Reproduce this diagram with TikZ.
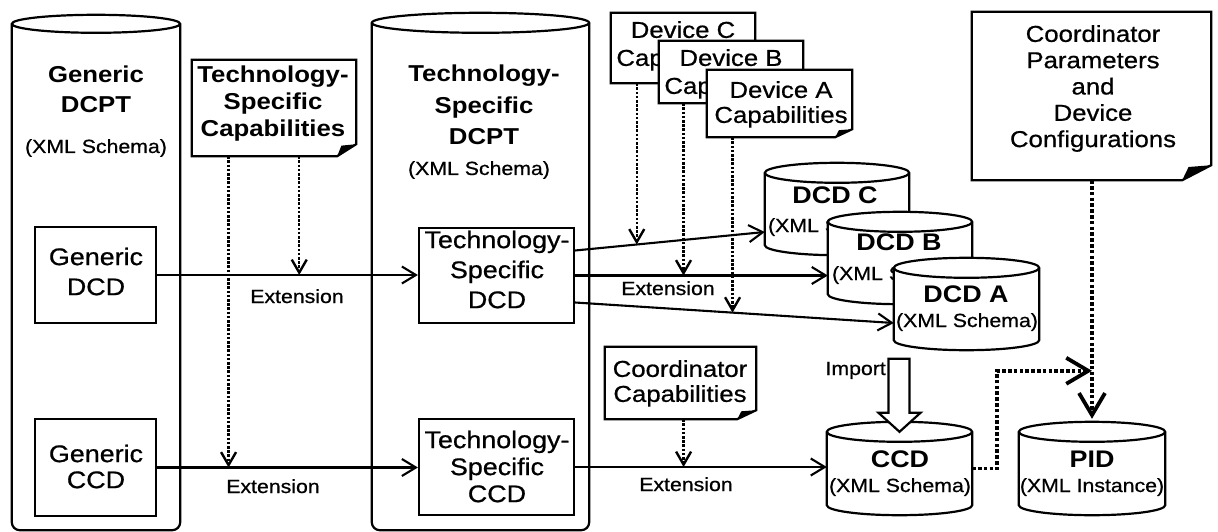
\documentclass[tikz,border=0pt]{standalone}
\usepackage{fontspec}
\setmainfont{Liberation Sans}[FakeStretch=1.12, UprightFeatures={FakeBold=0.7}]
\usetikzlibrary{arrows.meta,calc}
\newcommand\myfs[2]{\fontsize{#1}{#2}\selectfont}
\tikzset{
  thk/.style={line width=2.2pt},
  area/.style 2 args={rectangle, inner sep=0pt, minimum width=#1pt, minimum height=#2pt},
  notearea/.style 2 args={area={#1}{#2}, fill=white},
  box/.style 2 args={area={#1}{#2}, draw, thk, fill=white},
  mtxt/.style={align=center, inner sep=0pt, anchor=north},
  ltxt/.style={inner sep=0pt, anchor=base},
  arr/.style={line width=2.1pt, -{Straight Barb[length=14pt,width=17pt]}},
  dotarr/.style={line width=2.4pt, dash pattern=on 2.6pt off 1.6pt, -{Straight Barb[length=13pt,width=15pt]}},
  bigdot/.style={line width=3.8pt, dash pattern=on 3.6pt off 2.2pt},
  bigtip/.style={-{Straight Barb[length=22pt,width=26pt]}},
}
% cylinder drawn on the area of a named node
\newcommand\cyl[2]{%
  \draw[thk,fill=white] let \p1=(#1.west), \p2=(#1.east), \n1={(\x2-\x1)/2} in
    ([yshift=-#2pt]#1.north west) -- ([yshift=#2pt]#1.south west)
    arc[start angle=180,end angle=360,x radius=\n1,y radius=#2pt]
    -- ([yshift=-#2pt]#1.north east)
    arc[start angle=0,end angle=180,x radius=\n1,y radius=#2pt] -- cycle;
  \draw[thk] let \p1=(#1.west), \p2=(#1.east), \n1={(\x2-\x1)/2} in
    ([yshift=-#2pt]#1.north west) arc[start angle=180,end angle=360,x radius=\n1,y radius=#2pt];
}
\newcommand\bigcyl[3]{%
  \draw[thk,fill=white] let \p1=(#1.west), \p2=(#1.east), \n1={(\x2-\x1)/2} in
    ([yshift=-#2pt]#1.north west) -- ([yshift=#3pt]#1.south west)
    arc[start angle=180,end angle=270,radius=#3pt]
    -- ([xshift=-#3pt]#1.south east)
    arc[start angle=270,end angle=360,radius=#3pt]
    -- ([yshift=-#2pt]#1.north east)
    arc[start angle=0,end angle=180,x radius=\n1,y radius=#2pt] -- cycle;
  \draw[thk] let \p1=(#1.west), \p2=(#1.east), \n1={(\x2-\x1)/2} in
    ([yshift=-#2pt]#1.north west) arc[start angle=180,end angle=360,x radius=\n1,y radius=#2pt];
}
% note outline with folded corner
\newcommand\noteoutline[3]{%
  \draw[thk] (#1.north west) -- (#1.north east) -- ([yshift=#3pt]#1.south east)
    -- ([xshift=-#2pt]#1.south east) -- (#1.south west) -- cycle;
  \fill ([yshift=#3pt]#1.south east) -- ([xshift=-#2pt]#1.south east)
    -- ([xshift=-0.78*#2pt,yshift=0.88*#3pt]#1.south east) -- cycle;
}
\begin{document}
\begin{tikzpicture}[x=1pt,y=-1pt]
\useasboundingbox (0,0) rectangle (1218,532);

% big cylinders
\node[area={168}{515}] (gdcpt) at (96,272.5) {};
\bigcyl{gdcpt}{9}{8}
\node[mtxt, font=\myfs{23}{30}\bfseries] (gdcptT) at (96,66) {Generic\\DCPT};
\node[mtxt, font=\myfs{19}{22}] (gdcptX) at (96,139) {(XML Schema)};

\node[area={217}{517}] (tsdcpt) at (480.5,271.5) {};
\bigcyl{tsdcpt}{10}{8}
\node[mtxt, font=\myfs{23}{31.5}\bfseries] (tsdcptT) at (484,65) {Technology-\\Specific\\DCPT};
\node[mtxt, font=\myfs{19}{22}] (tsdcptX) at (479,161) {(XML Schema)};

% boxes
\node[box={121}{96}] (gdcd) at (95.5,275) {};
\node[mtxt, font=\myfs{24}{30}] (gdcdT) at (96,247.5) {Generic\\DCD};
\node[box={121}{97}] (gccd) at (95.5,467.5) {};
\node[mtxt, font=\myfs{24}{26}] (gccdT) at (96,444.5) {Generic\\CCD};
\node[box={155}{95}] (tsdcd) at (496.5,275.5) {};
\node[mtxt, font=\myfs{24}{30}] (tsdcdT) at (497,230.5) {Technology-\\Specific\\DCD};
\node[box={155}{96}] (tsccd) at (496.5,467) {};
\node[mtxt, font=\myfs{24}{27}] (tsccdT) at (497,430.5) {Technology-\\Specific\\CCD};

% notes
\node[notearea={164}{96}] (tsc) at (274,108) {};
\noteoutline{tsc}{19}{12}
\node[mtxt, font=\myfs{23}{27}\bfseries] (tscT) at (273,66) {Technology-\\Specific\\Capabilities};

\node[notearea={144}{70}] (devc) at (683,48) {};
\noteoutline{devc}{17}{8}
\node[mtxt, font=\myfs{23}{28}] (devcT) at (683,21) {Device C\\Capabilities};
\node[notearea={144}{62}] (devb) at (731,72) {};
\noteoutline{devb}{17}{8}
\node[mtxt, font=\myfs{23}{28}] (devbT) at (731,49) {Device B\\Capabilities};
\node[notearea={145}{67}] (deva) at (779.5,103.5) {};
\noteoutline{deva}{17}{8}
\node[mtxt, font=\myfs{23}{25}] (devaT) at (781,81) {Device A\\Capabilities};

\node[notearea={151}{72}] (cc) at (680.5,383) {};
\noteoutline{cc}{19}{9}
\node[mtxt, font=\myfs{23}{25}] (ccT) at (680,360) {Coordinator\\Capabilities};

\node[notearea={239}{168}] (cpdc) at (1091.5,96) {};
\noteoutline{cpdc}{29}{15}
\node[mtxt, font=\myfs{23}{26.3}] (cpdcT) at (1093,25) {Coordinator\\Parameters\\and\\Device\\Configurations};

% DCD cylinders
\node[area={144}{92}] (dcdc) at (837,209) {};
\cyl{dcdc}{10}
\node[ltxt, font=\myfs{24}{28}\bfseries] (dcdcT) at (835,203) {DCD C};
\node[ltxt, font=\myfs{19}{22}] (dcdcX) at (839,232) {(XML Schema)};
\node[area={144}{92}] (dcdb) at (900,258) {};
\cyl{dcdb}{10}
\node[ltxt, font=\myfs{24}{28}\bfseries] (dcdbT) at (899,250) {DCD B};
\node[ltxt, font=\myfs{19}{22}] (dcdbX) at (903,280) {(XML Schema)};
\node[area={145}{92}] (dcda) at (966.5,304) {};
\cyl{dcda}{10}
\node[ltxt, font=\myfs{24}{28}\bfseries] (dcdaT) at (966,302) {DCD A};
\node[ltxt, font=\myfs{19}{22}] (dcdaX) at (967,327) {(XML Schema)};

% CCD and PID
\node[area={145}{93}] (ccd) at (899.5,468.5) {};
\cyl{ccd}{10}
\node[ltxt, font=\myfs{24}{28}\bfseries] (ccdT) at (900,467) {CCD};
\node[ltxt, font=\myfs{19}{22}] (ccdX) at (900,492) {(XML Schema)};
\node[area={146}{93}] (pid) at (1092,468.5) {};
\cyl{pid}{10}
\node[ltxt, font=\myfs{24}{28}\bfseries] (pidT) at (1092,467) {PID};
\node[ltxt, font=\myfs{19}{22}] (pidX) at (1092,492) {(XML Instance)};

% import arrow
\coordinate (imptip) at ([yshift=-10pt]ccd.north);
\draw[thk, fill=white] (imptip) -- ++(21,-19) -- ++(-11,0) -- ++(0,-54) -- ++(-21,0) -- ++(0,54) -- ++(-10,0) -- cycle;
\node[ltxt, anchor=base east, font=\myfs{19}{22}] (imp) at (886,375) {Import};

% solid connectors
\draw[arr] (gdcd.east) -- (gdcd.east -| tsdcd.west);
\draw[arr] (gccd.east) -- (gccd.east -| tsccd.west);
\draw[arr] (tsccd.east) -- (tsccd.east -| ccd.west);
\draw[arr] ([yshift=25pt]tsdcd.east) -- ([yshift=-23pt]dcdc.west);
\draw[arr] (tsdcd.east) -- (tsdcd.east -| dcdb.west);
\draw[arr] ([yshift=-27pt]tsdcd.east) -- ([yshift=-19pt]dcda.west);

% points on connectors
\path (gdcd.east) -- (gdcd.east -| tsdcd.west) coordinate[pos=0.545] (tg1);
\path (gccd.east) -- (gccd.east -| tsccd.west) coordinate[pos=0.274] (tg2);
\path ([yshift=25pt]tsdcd.east) -- ([yshift=-23pt]dcdc.west) coordinate[pos=0.325] (tc);
\path (tsdcd.east) -- (tsdcd.east -| dcdb.west) coordinate[pos=0.429] (tb);
\path ([yshift=-27pt]tsdcd.east) -- ([yshift=-19pt]dcda.west) coordinate[pos=0.494] (ta);
\path (tsccd.east) -- (tsccd.east -| ccd.west) coordinate[pos=0.431] (tcc);

% dotted connectors
\draw[dotarr] (tsc.south -| tg1) -- (tg1);
\draw[dotarr] (tsc.south -| tg2) -- (tg2);
\draw[dotarr] (devc.south -| tc) -- (tc);
\draw[dotarr] (devb.south -| tb) -- (tb);
\draw[dotarr] (deva.south -| ta) -- (ta);
\draw[dotarr] (cc.south -| tcc) -- (tcc);

% heavy dotted connectors
\path (cpdc.south -| pid.north) -- (pid.north) coordinate[pos=0.789] (jn);
\draw[bigdot, bigtip, shorten >=3pt] (cpdc.south -| pid.north) -- (pid.north);
\draw[bigdot, bigtip] (ccd.east) -- ++(25,0) |- (jn);

% labels
\node[ltxt, font=\myfs{19}{22}] (ext1) at (297,303) {Extension};
\node[ltxt, font=\myfs{19}{22}] (ext2) at (273,493) {Extension};
\node[ltxt, font=\myfs{19}{22}] (ext3) at (668,295) {Extension};
\node[ltxt, font=\myfs{19}{22}] (ext4) at (686,491) {Extension};
\end{tikzpicture}
\end{document}
